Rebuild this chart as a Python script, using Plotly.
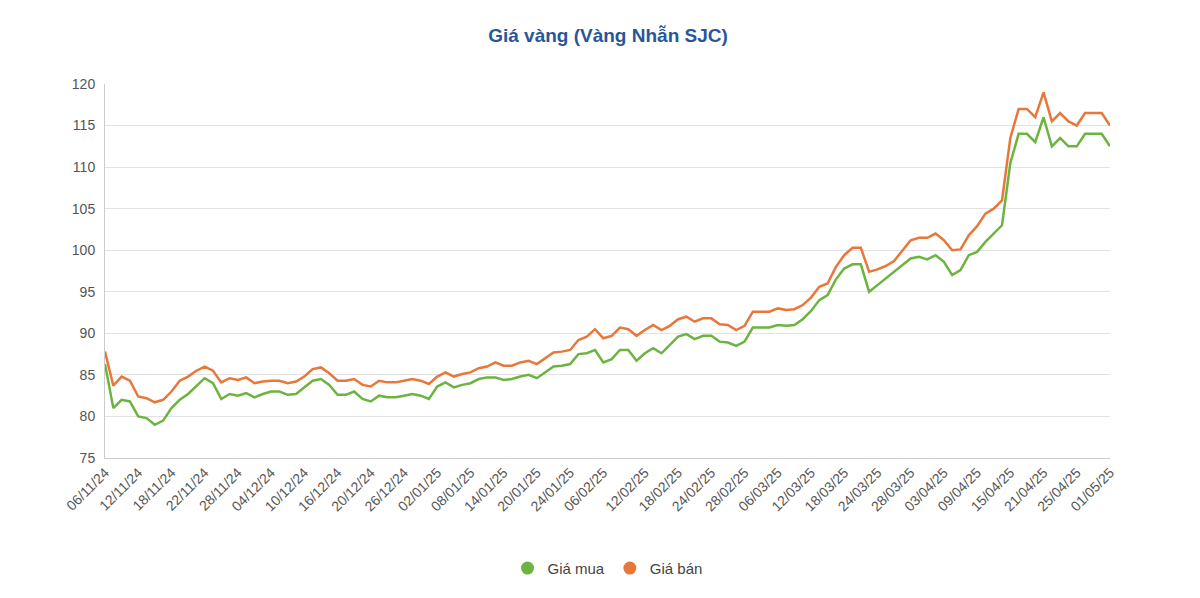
import plotly.graph_objects as go

tick_labels = ["06/11/24", "12/11/24", "18/11/24", "22/11/24", "28/11/24", "04/12/24",
               "10/12/24", "16/12/24", "20/12/24", "26/12/24", "02/01/25", "08/01/25",
               "14/01/25", "20/01/25", "24/01/25", "06/02/25", "12/02/25", "18/02/25",
               "24/02/25", "28/02/25", "06/03/25", "12/03/25", "18/03/25", "24/03/25",
               "28/03/25", "03/04/25", "09/04/25", "15/04/25", "21/04/25", "25/04/25",
               "01/05/25"]

gia_mua = [86.3, 81, 82, 81.8, 80, 79.8, 79, 79.5, 81, 82, 82.7, 83.7, 84.6, 84, 82.1, 82.7,
           82.5, 82.8, 82.3, 82.7, 83, 83, 82.6, 82.7, 83.5, 84.3, 84.5, 83.8, 82.6, 82.6,
           83, 82.1, 81.8, 82.5, 82.3, 82.3, 82.5, 82.7, 82.5, 82.1, 83.6, 84.1, 83.5, 83.8,
           84, 84.5, 84.7, 84.7, 84.4, 84.5, 84.8, 85, 84.6, 85.3, 86, 86.1, 86.3, 87.5,
           87.6, 88, 86.5, 86.9, 88, 88, 86.7, 87.6, 88.2, 87.6, 88.6, 89.6, 89.9, 89.3,
           89.7, 89.7, 89, 88.9, 88.5, 89, 90.7, 90.7, 90.7, 91, 90.9, 91, 91.7, 92.7, 94,
           94.6, 96.5, 97.8, 98.3, 98.3, 95, 95.8, 96.6, 97.3, 98.2, 99, 99.2, 98.9, 99.4,
           98.6, 97, 97.6, 99.4, 99.8, 101, 102, 103, 110.5, 114, 114, 113, 116, 112.5,
           113.5, 112.5, 112.5, 114, 114, 114, 112.5]

gia_ban = [87.8, 83.7, 84.8, 84.3, 82.4, 82.2, 81.7, 82, 83, 84.3, 84.8, 85.5, 86, 85.5, 84.1,
           84.6, 84.4, 84.7, 84, 84.2, 84.3, 84.3, 84, 84.2, 84.8, 85.7, 85.9, 85.2, 84.3,
           84.3, 84.5, 83.8, 83.6, 84.3, 84.1, 84.1, 84.3, 84.5, 84.3, 83.9, 84.8, 85.3,
           84.8, 85.1, 85.3, 85.8, 86, 86.5, 86.1, 86.1, 86.5, 86.7, 86.3, 87, 87.7, 87.8,
           88, 89.2, 89.6, 90.5, 89.4, 89.7, 90.7, 90.5, 89.7, 90.4, 91, 90.4, 90.9, 91.7,
           92, 91.4, 91.8, 91.8, 91.1, 91, 90.4, 90.9, 92.6, 92.6, 92.6, 93, 92.8, 92.9,
           93.4, 94.3, 95.6, 96, 98, 99.4, 100.3, 100.3, 97.4, 97.7, 98.1, 98.7, 100, 101.2,
           101.5, 101.5, 102, 101.2, 100, 100.1, 101.8, 102.9, 104.4, 105, 106, 113.5, 117,
           117, 116, 119, 115.5, 116.5, 115.5, 115, 116.5, 116.5, 116.5, 115]

GREEN, ORANGE = "#6db33f", "#e8773a"

n = len(gia_mua)
idx = list(range(n))
tick_vals = [round(k * (n - 1) / (len(tick_labels) - 1)) for k in range(len(tick_labels))]

fig = go.Figure()
for name, vals, col in [("Giá mua", gia_mua, GREEN), ("Giá bán", gia_ban, ORANGE)]:
    fig.add_trace(go.Scatter(x=idx, y=vals, name=name, mode="lines", showlegend=False,
                             line=dict(color=col, width=2.5)))
    # legend entry with a round marker
    fig.add_trace(go.Scatter(x=[None], y=[None], name=name, mode="markers",
                             marker=dict(color=col, size=13)))

fig.update_xaxes(tickvals=tick_vals, ticktext=tick_labels, tickangle=-45,
                 range=[0, n - 1], showgrid=False, showline=True, linecolor="#cccccc",
                 tickfont=dict(size=14, color="#555"), ticks="", automargin=False)
fig.update_yaxes(range=[75, 120], dtick=5, gridcolor="#e3e3e3", showline=True,
                 linecolor="#cccccc", zeroline=False, tickfont=dict(size=14, color="#555"),
                 automargin=False, ticklabelstandoff=6)
fig.update_layout(
    title=dict(text="<b>Giá vàng (Vàng Nhẫn SJC)</b>", x=0.5, xanchor="center", y=0.965,
               font=dict(size=19, color="#2a5699")),
    font=dict(family="Liberation Sans, Arial, sans-serif"),
    width=1200, height=598,
    margin=dict(l=97, r=98, t=76, b=148),
    plot_bgcolor="white", paper_bgcolor="white",
    legend=dict(orientation="h", x=0.5, xanchor="center", y=-0.295, yanchor="middle",
                font=dict(size=15, color="#444")),
)
fig.write_html("out.html")
